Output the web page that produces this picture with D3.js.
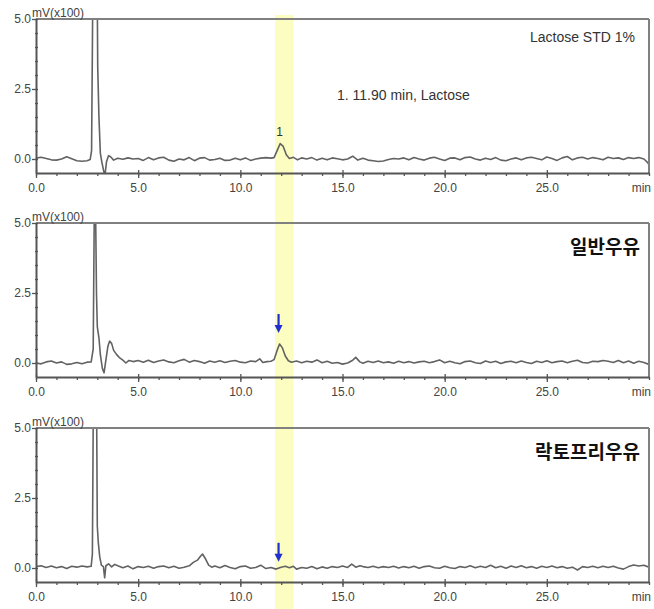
<!DOCTYPE html>
<html><head><meta charset="utf-8">
<script src="https://cdn.jsdelivr.net/npm/d3@7"></script>
<style>
body{margin:0;background:#fff;}
svg{display:block;font-family:"Liberation Sans",Arial,sans-serif;}
</style></head>
<body><svg id="c" width="654" height="609"></svg>
<script>
// ---- data (time in min, signal in mV x100) ----
const xMajorTicks = [0, 5, 10, 15, 20, 25];
const xTickLabels = ["0.0", "5.0", "10.0", "15.0", "20.0", "25.0"];
const yMajorTicks = [0, 2.5, 5];
const yTickLabels = ["0.0", "2.5", "5.0"];
const panelTitles = ["Lactose STD 1%", "일반우유", "락토프리우유"];
const peakAnnotation = "1. 11.90 min, Lactose";
const lactoseWindow = [11.7, 12.6];
const lactoseTime = 11.92;

const stdSeries = [
[0,0.03],[0.25,0.06],[0.5,0.02],[0.75,-0.03],[1,-0.04],[1.25,0],[1.5,0.08],[1.75,0.01],[2,-0.06],[2.25,-0.08],[2.5,-0.06],[2.65,-0.02],
[2.72,0.3],[2.76,4.0],[2.8,8],[2.98,8],[3.02,3.3],[3.08,1.5],[3.15,0.2],[3.22,-0.1],[3.32,-0.45],[3.38,-0.55],[3.45,-0.1],[3.55,0.12],[3.65,0.08],[3.8,-0.04],
[4,0.03],[4.25,-0.01],[4.5,0.04],[4.75,0],[5,0.02],[5.25,-0.05],[5.5,0.05],[5.75,-0.03],[6,0.04],[6.25,0.06],[6.5,-0.04],[6.75,-0.08],
[7,0],[7.25,-0.03],[7.5,0.05],[7.75,-0.06],[8,0.03],[8.25,0.05],[8.5,-0.04],[8.75,-0.02],[9,0.03],[9.25,-0.05],[9.5,-0.04],[9.75,0.03],
[10,-0.03],[10.25,0.04],[10.5,-0.05],[10.75,0],[11,0.03],[11.25,0.05],[11.5,0.03],[11.65,0.05],[11.8,0.3],[11.95,0.55],[12.1,0.45],[12.25,0.15],[12.4,0.02],
[12.6,0.06],[12.8,-0.03],[13,0.04],[13.25,0],[13.5,0.05],[13.75,-0.04],[14,0.03],[14.25,-0.03],[14.5,0.04],[14.75,0.01],[15,-0.03],[15.25,0],[15.5,0.1],[15.75,-0.04],
[16,0.03],[16.25,-0.04],[16.5,-0.06],[16.75,-0.09],[17,-0.07],[17.25,-0.02],[17.5,0.02],[17.75,0],[18,0.04],[18.25,-0.03],[18.5,0.05],
[18.75,0],[19,-0.04],[19.25,0.03],[19.5,0.06],[19.75,0],[20,-0.05],[20.25,0.03],[20.5,0.04],[20.75,-0.03],[21,0.05],[21.25,0.07],[21.5,0],[21.75,-0.04],
[22,0.03],[22.25,-0.02],[22.5,0.05],[22.75,-0.04],[23,-0.06],[23.25,0],[23.5,0.04],[23.75,-0.03],[24,0.04],[24.25,0.06],[24.5,0.02],[24.75,-0.03],
[25,0.07],[25.25,0.02],[25.5,-0.05],[25.75,0.04],[26,0.09],[26.25,-0.03],[26.5,0.04],[26.75,0.06],[27,0],[27.25,0.05],[27.5,0.02],[27.75,-0.03],
[28,0.06],[28.25,0.02],[28.5,0.04],[28.75,-0.02],[29,0.05],[29.25,0.02],[29.5,0.05],[29.75,0],[29.9,-0.1],[30,-0.2]
];

const normalMilk = [
[0,0],[0.25,-0.03],[0.5,0.04],[0.75,0.07],[1,0],[1.25,0.04],[1.5,-0.05],[1.75,-0.03],[2,0.02],[2.25,-0.03],[2.5,0.03],[2.7,0.04],
[2.8,0.5],[2.85,5.2],[2.92,5.2],[2.96,2.5],[3,1.3],[3.08,0.9],[3.15,0.3],[3.25,-0.2],[3.33,-0.35],[3.42,0.1],[3.52,0.6],[3.6,0.78],[3.7,0.7],[3.8,0.45],
[3.95,0.3],[4.1,0.18],[4.25,0.1],[4.4,0],[4.55,0.09],[4.75,0.05],[5,0.09],
[5.25,0.03],[5.5,0.1],[5.75,0.02],[6,0.07],[6.25,0.11],[6.5,0.04],[6.75,0.01],[7,0.08],[7.25,0.13],[7.5,0.03],[7.75,0.09],[8,0.05],[8.25,-0.01],
[8.5,0.07],[8.75,0.03],[9,0.08],[9.25,0.02],[9.5,0.06],[9.75,0.09],[10,0.03],[10.25,0.01],[10.5,0.07],[10.75,0.05],[10.95,0.15],[11.1,0.02],
[11.3,0.05],[11.5,0.06],[11.65,0.12],[11.8,0.45],[11.92,0.68],[12.05,0.55],[12.2,0.25],[12.35,0.08],[12.5,0.03],[12.75,0.07],[13,0.01],[13.25,0.06],
[13.5,0.03],[13.75,0.11],[14,0.01],[14.25,0.06],[14.5,-0.01],[14.75,0.02],[15,-0.04],[15.25,0],[15.5,0.1],[15.65,0.2],[15.85,0.04],[16,-0.01],[16.25,0.06],
[16.5,0.02],[16.75,0.07],[17,0.01],[17.25,0.04],[17.5,-0.01],[17.75,0.06],[18,0.01],[18.25,0.05],[18.5,0],[18.75,0.04],[19,0.06],[19.25,0.01],
[19.5,0.05],[19.75,0.11],[20,0.01],[20.25,0.06],[20.5,0.01],[20.75,-0.03],[21,0.05],[21.25,0.07],[21.5,0.01],[21.75,-0.02],[22,0.07],[22.25,0.02],
[22.5,0.06],[22.75,-0.02],[23,0.04],[23.25,0.06],[23.5,0.01],[23.75,0.07],[24,0.02],[24.25,-0.02],[24.5,0.06],[24.75,0.02],[25,0.08],[25.25,0.01],
[25.5,0.05],[25.75,0.07],[26,0.01],[26.25,0.06],[26.5,0.1],[26.75,0.02],[27,0],[27.25,0.06],[27.5,0.05],[27.75,0.09],[28,0.06],[28.25,0.02],
[28.5,0.09],[28.75,0.01],[29,0.07],[29.25,-0.01],[29.5,0.06],[29.75,0.02],[30,-0.05]
];

const lactoseFree = [
[0,0.05],[0.25,0.08],[0.5,0.02],[0.75,0.07],[1,0.01],[1.25,0.05],[1.5,-0.02],[1.75,0.06],[2,0.03],[2.25,0.07],[2.5,0.04],[2.7,0.06],
[2.76,0.5],[2.8,5.2],[2.97,5.2],[3,1.5],[3.05,0.9],[3.12,0.4],[3.2,0.1],[3.3,0.05],[3.36,-0.35],[3.42,0.08],[3.55,0.15],[3.7,0.04],[3.85,0.13],
[4,0.08],[4.25,0.01],[4.5,0.07],[4.75,-0.03],[5,0.05],[5.25,0.02],[5.5,0.06],[5.75,-0.01],[6,0.05],[6.25,0.07],[6.5,0.01],[6.75,0.06],[7,-0.01],[7.25,0.03],
[7.5,0.08],[7.7,0.2],[7.9,0.28],[8.05,0.42],[8.15,0.5],[8.3,0.32],[8.45,0.1],[8.6,0.03],[8.75,0.07],[9,0.01],[9.25,0.09],[9.5,0.02],[9.75,-0.03],
[10,0.05],[10.25,0.07],[10.5,-0.01],[10.75,0.02],[11,0.1],[11.25,-0.02],[11.5,0.02],[11.75,-0.04],[12,0.03],[12.2,0.06],[12.4,0.01],[12.6,0.06],
[12.75,-0.04],[13,0.02],[13.25,-0.01],[13.5,0.05],[13.75,-0.03],[14,0.04],[14.25,-0.01],[14.5,0.05],[14.75,0.02],[15,0.07],[15.25,0.02],[15.45,0.14],
[15.65,0.03],[15.85,0.08],[16,0.05],[16.25,0.02],[16.5,0.06],[16.75,0.01],[17,0.05],[17.25,0.02],[17.5,0.06],[17.75,0],[18,0.05],[18.25,0.01],
[18.5,0.06],[18.75,-0.01],[19,0.05],[19.25,0.07],[19.5,0.01],[19.75,-0.01],[20,0.06],[20.25,0.01],[20.5,-0.02],[20.75,0.05],[21,0.02],[21.25,0.08],
[21.5,0.01],[21.75,0.06],[22,0.02],[22.25,0.1],[22.5,0.01],[22.75,0.06],[23,-0.01],[23.25,0.07],[23.5,0.02],[23.75,0.08],[24,0.01],[24.25,0.05],
[24.5,-0.01],[24.75,0.06],[25,0.02],[25.25,0.07],[25.5,0.01],[25.75,0.05],[26,-0.01],[26.25,0.03],[26.5,-0.07],[26.75,0.05],[27,0.02],[27.25,0.06],
[27.5,0.01],[27.75,0.06],[28,0.02],[28.25,0.06],[28.5,0],[28.75,-0.04],[29,0.05],[29.25,0.11],[29.5,0.07],[29.75,0.1],[30,0.03]
];

// ---- layout ----
const svg = d3.select("#c");
const L = 36, R = 649;
const panelTops = [19, 223, 428];
const panelH = 154;
const x = d3.scaleLinear().domain([0, 30]).range([L, R]);
const seriesList = [stdSeries, normalMilk, lactoseFree];

// highlight band (behind everything)
svg.append("rect")
  .attr("x", x(lactoseWindow[0])).attr("y", 15)
  .attr("width", x(lactoseWindow[1]) - x(lactoseWindow[0])).attr("height", 609 - 15)
  .attr("fill", "#fcfdc0");

const textCol = "#444";

panelTops.forEach((top, i) => {
  const y = d3.scaleLinear().domain([-0.5, 5]).range([top + panelH, top]);
  const g = svg.append("g");
  const cid = "clip" + i;
  svg.append("clipPath").attr("id", cid).append("rect")
    .attr("x", L).attr("y", top).attr("width", R - L).attr("height", panelH);

  // trace
  const line = d3.line().x(d => x(d[0])).y(d => y(d[1]));
  g.append("path").datum(seriesList[i]).attr("d", line)
    .attr("clip-path", `url(#${cid})`)
    .attr("fill", "none").attr("stroke", "#626262").attr("stroke-width", 1.6)
    .attr("stroke-linejoin", "round");

  // frame: top and right
  g.append("line").attr("x1", L).attr("x2", R).attr("y1", y(5)).attr("y2", y(5))
    .attr("stroke", "#808080").attr("stroke-width", 2);
  g.append("line").attr("x1", R).attr("x2", R).attr("y1", y(5)).attr("y2", y(-0.5))
    .attr("stroke", "#808080").attr("stroke-width", 2);

  // x axis: minor ticks
  const xMinor = d3.range(0, 31, 1);
  const axM = g.append("g").attr("transform", `translate(0,${y(-0.5)})`)
    .call(d3.axisBottom(x).tickValues(xMinor).tickSize(3).tickFormat(""));
  axM.select(".domain").remove();
  axM.selectAll("line").attr("stroke", "#555").attr("stroke-width", 1.3);

  const ax = g.append("g").attr("transform", `translate(0,${y(-0.5)})`)
    .call(d3.axisBottom(x).tickValues(xMajorTicks).tickSizeInner(5).tickSizeOuter(0).tickPadding(5)
      .tickFormat((d, k) => xTickLabels[k]));
  ax.select(".domain").attr("stroke", "#555").attr("stroke-width", 2);
  ax.selectAll(".tick line").attr("stroke", "#555").attr("stroke-width", 1.3).attr("y1", -3);
  ax.selectAll("text").attr("fill", textCol).style("font-size", "12px")
    .style("font-family", "'Liberation Sans', Arial, sans-serif");
  g.append("text").attr("x", 651).attr("y", y(-0.5) + 19).attr("text-anchor", "end")
    .attr("fill", textCol).style("font-size", "12px").text("min");

  // y axis: minor ticks
  const yMinor = d3.range(0, 5.01, 0.5);
  const ayM = g.append("g").attr("transform", `translate(${L},0)`)
    .call(d3.axisLeft(y).tickValues(yMinor).tickSize(2).tickFormat(""));
  ayM.select(".domain").remove();
  ayM.selectAll("line").attr("stroke", "#555").attr("stroke-width", 1.3).attr("x2", 2).attr("x1", -1);

  const ay = g.append("g").attr("transform", `translate(${L},0)`)
    .call(d3.axisLeft(y).tickValues(yMajorTicks).tickSizeInner(4).tickSizeOuter(0).tickPadding(1)
      .tickFormat((d, k) => yTickLabels[k]));
  ay.select(".domain").attr("stroke", "#555").attr("stroke-width", 2);
  ay.selectAll(".tick line").attr("stroke", "#555").attr("stroke-width", 1.3);
  ay.selectAll("text").attr("fill", textCol).style("font-size", "12px")
    .style("font-family", "'Liberation Sans', Arial, sans-serif");

  g.append("text").attr("x", 32).attr("y", top - 2).attr("fill", textCol)
    .style("font-size", "12px").text("mV(x100)");

  // titles
  if (i === 0) {
    g.append("text").attr("x", 635).attr("y", top + 23).attr("text-anchor", "end")
      .attr("fill", "#333").style("font-size", "14px").text(panelTitles[0]);
    g.append("text").attr("x", 337).attr("y", top + 81)
      .attr("fill", "#333").style("font-size", "14px").text(peakAnnotation);
    g.append("text").attr("x", x(lactoseTime)).attr("y", y(0.55) - 8).attr("text-anchor", "middle")
      .attr("fill", "#333").style("font-size", "12px").text("1");
  } else {
    g.append("text").attr("x", 640).attr("y", top + 31).attr("text-anchor", "end")
      .attr("fill", "#111").style("font-size", "19px").style("font-weight", "bold")
      .style("font-family", "'Noto Sans CJK KR', sans-serif").text(panelTitles[i]);
    // blue arrow
    const ax0 = x(lactoseTime) - 1;
    const aTop = i === 1 ? y(1.75) : y(0.9);
    const aBot = aTop + 19;
    g.append("line").attr("x1", ax0).attr("x2", ax0).attr("y1", aTop).attr("y2", aBot - 6)
      .attr("stroke", "#1f2fd0").attr("stroke-width", 2.2);
    g.append("path")
      .attr("d", `M${ax0 - 4},${aBot - 8} L${ax0 + 4},${aBot - 8} L${ax0},${aBot} Z`)
      .attr("fill", "#1f2fd0");
  }
});
</script></body></html>
